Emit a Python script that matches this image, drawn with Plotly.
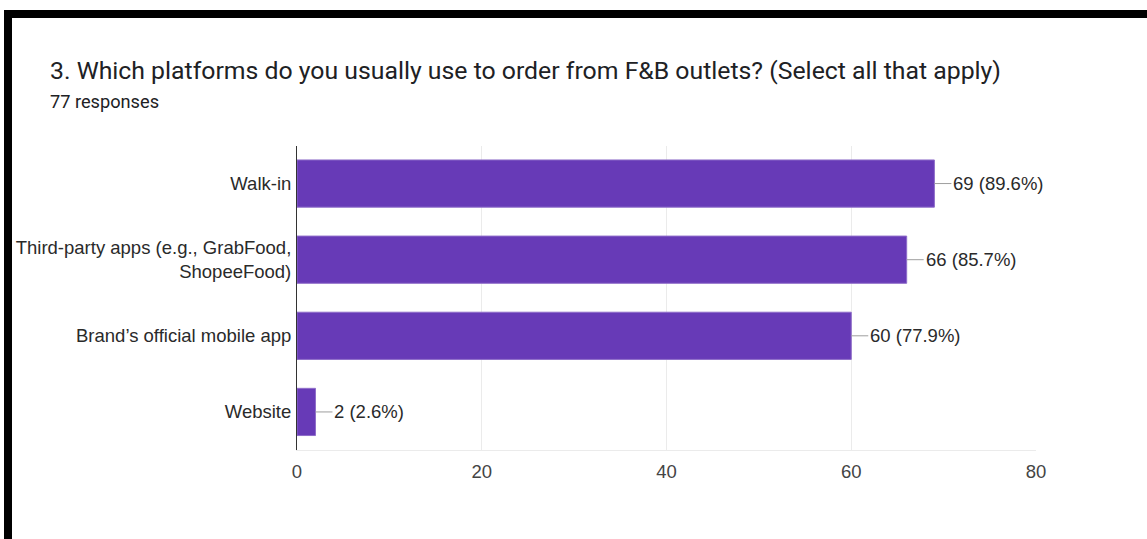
import plotly.graph_objects as go

W, H = 1147, 539

categories = ["Walk-in", "Third-party apps (e.g., GrabFood,<br>ShopeeFood)",
              "Brand’s official mobile app", "Website"]
counts = [69, 66, 60, 2]
percents = ["89.6%", "85.7%", "77.9%", "2.6%"]
x_ticks = [0, 20, 40, 60, 80]

title_text = "3. Which platforms do you usually use to order from F&B outlets? (Select all that apply)"
subtitle_text = "77 responses"

fig = go.Figure()
fig.add_trace(go.Bar(
    x=counts, y=categories, orientation="h",
    marker=dict(color="#673ab7", line=dict(color="#8e6cc9", width=1)),
    hoverinfo="skip",
))

annotations = []
for c, v, p in zip(categories, counts, percents):
    annotations.append(dict(
        x=v, y=c, xref="x", yref="y", text=f"{v} ({p})",
        showarrow=True, arrowhead=0, arrowwidth=1, arrowcolor="#9e9e9e",
        ax=17, ay=0, xanchor="left", yanchor="middle",
        font=dict(family="Liberation Sans, Arial", size=18.5, color="#2a2a2a"),
    ))

# Title and subtitle
annotations.append(dict(
    x=48 / W, y=1 - 71 / H, xref="paper", yref="paper", text=title_text,
    showarrow=False, xanchor="left", yanchor="middle",
    font=dict(family="Roboto", size=24.8, color="#202124"),
))
annotations.append(dict(
    x=48 / W, y=1 - 102 / H, xref="paper", yref="paper", text=subtitle_text,
    showarrow=False, xanchor="left", yanchor="middle",
    font=dict(family="Roboto", size=18.2, color="#202124"),
))

shapes = [
    # black frame bars (top and left)
    dict(type="rect", xref="paper", yref="paper", x0=4 / W, x1=1, y0=1 - 18 / H, y1=1 - 10 / H,
         fillcolor="black", line=dict(width=0), layer="above"),
    dict(type="rect", xref="paper", yref="paper", x0=4 / W, x1=12 / W, y0=0, y1=1 - 10 / H,
         fillcolor="black", line=dict(width=0), layer="above"),
]

fig.update_layout(
    width=W, height=H,
    margin=dict(l=0, r=0, t=0, b=0),
    paper_bgcolor="white", plot_bgcolor="white",
    showlegend=False,
    bargap=0.38,
    annotations=annotations,
    shapes=shapes,
    xaxis=dict(
        domain=[297 / W, 1036 / W], range=[0, 80], tickvals=x_ticks,
        showgrid=True, gridcolor="#ebebeb", gridwidth=1,
        zeroline=False, showline=True, linecolor="#ebebeb", linewidth=1,
        tickfont=dict(family="Liberation Sans, Arial", size=18.5, color="#444444"),
        ticks="", automargin=False, ticklabelstandoff=5,
    ),
    yaxis=dict(
        domain=[(H - 450) / H, (H - 145.5) / H],
        categoryorder="array", categoryarray=categories[::-1],
        showgrid=False, zeroline=False,
        showline=True, linecolor="#333333", linewidth=1,
        tickfont=dict(family="Liberation Sans, Arial", size=18.5, color="#2a2a2a"),
        ticks="", automargin=False, ticklabelstandoff=1,
    ),
)

fig.write_html("out.html")
